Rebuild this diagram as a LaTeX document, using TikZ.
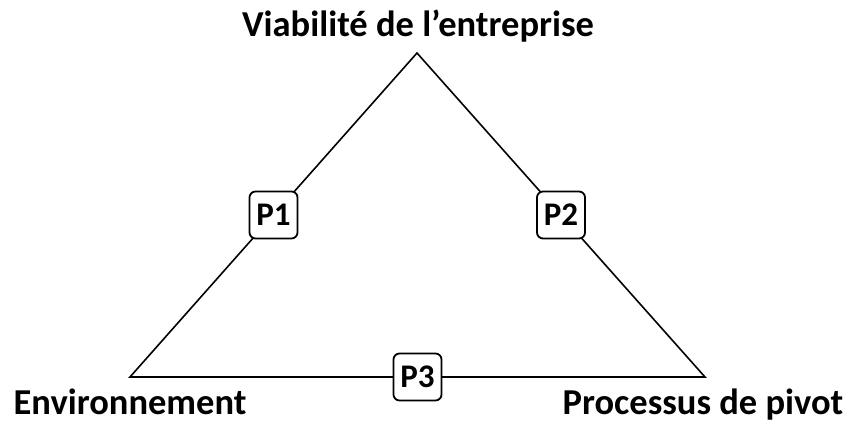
\documentclass[tikz,border=0pt]{standalone}
\usepackage{fontspec}
\setmainfont{Carlito}
\usetikzlibrary{calc}
\begin{document}
\begin{tikzpicture}[x=1pt,y=1pt,
  lbl/.style={font=\fontsize{36.5}{40}\selectfont\bfseries, inner sep=0pt, anchor=base},
  pbox/.style={draw, line width=1.8pt, fill=white, rounded corners=6pt, minimum width=48pt, minimum height=47pt, inner sep=0pt, font=\fontsize{33}{36}\selectfont\bfseries},
  edge/.style={line width=1.6pt}]
\useasboundingbox (0,0) rectangle (848,425);
\coordinate (A) at (417,372);
\coordinate (B) at (130,48);
\coordinate (C) at (705,48);
\draw[edge] (A) -- (B) -- (C) -- cycle;
\node[pbox] (P1) at ($(A)!0.5!(B)$) {P1};
\node[pbox] (P2) at ($(A)!0.5!(C)$) {P2};
\node[pbox] (P3) at ($(B)!0.5!(C)$) {P3};
\node[lbl] (T) at (418,388) {Viabilité de l’entreprise};
\node[lbl] (E) at (130,10) {Environnement};
\node[lbl] (Pp) at (703,10) {Processus de pivot};
\end{tikzpicture}
\end{document}
